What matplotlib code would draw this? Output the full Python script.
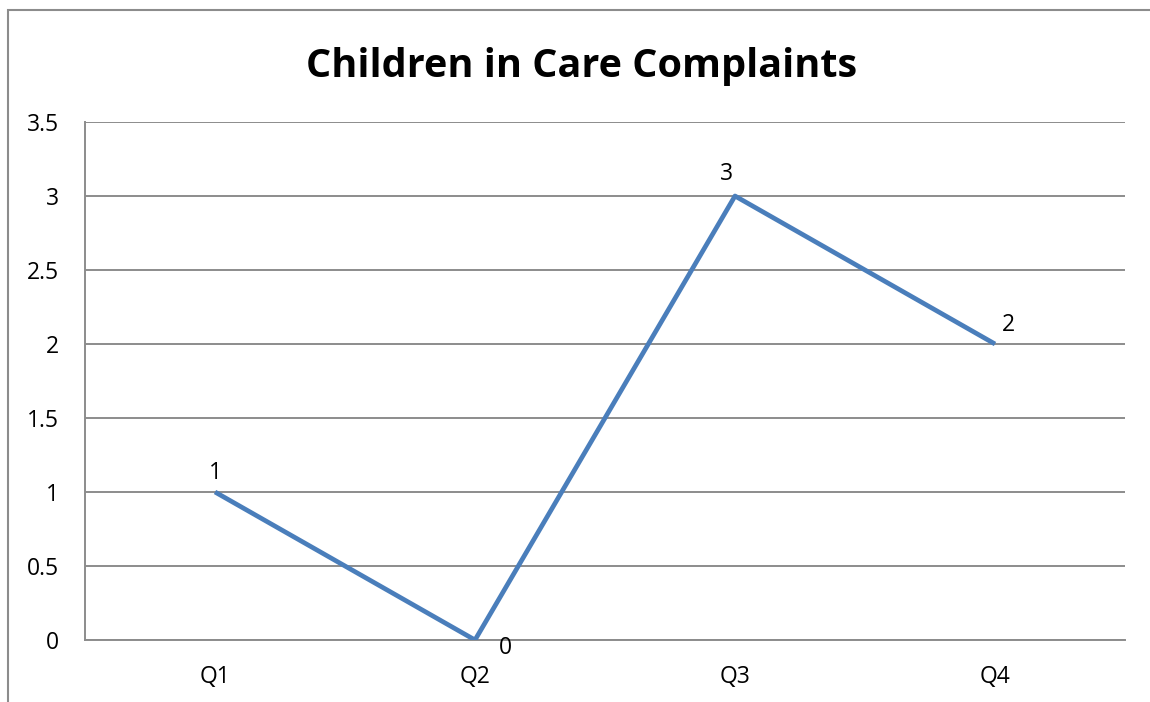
import matplotlib.pyplot as plt
from matplotlib.patches import Rectangle

plt.rcParams['font.family'] = ['Open Sans', 'DejaVu Sans']

quarters = ["Q1", "Q2", "Q3", "Q4"]
complaints = [1, 0, 3, 2]
yticks = [0, 0.5, 1, 1.5, 2, 2.5, 3, 3.5]
ytick_labels = ["0", "0.5", "1", "1.5", "2", "2.5", "3", "3.5"]
label_offsets = [(0, 14), (22, -6), (-6, 16), (10, 14)]

fig = plt.figure(figsize=(11.5, 7.02), dpi=100)
ax = fig.add_axes([85 / 1150, 1 - 640 / 702, 1040 / 1150, 518 / 702])

# outer chart border, cut off at right and bottom
fig.patches.append(Rectangle((8 / 1150, -0.1), 1.2, 1 - 10 / 702 + 0.1,
                             transform=fig.transFigure, fill=False,
                             edgecolor="#8c8c8c", linewidth=1.5))

x = list(range(len(quarters)))
ax.plot(x, complaints, color="#4a7ebb", linewidth=3.4, solid_capstyle="butt", zorder=3)
for xi, v, off in zip(x, complaints, label_offsets):
    ax.annotate(str(v), (xi, v), xytext=off, textcoords="offset points",
                ha="center", va="center", fontsize=16.5)

ax.set_xlim(-0.5, 3.5)
ax.set_ylim(0, 3.5)
ax.set_xticks(x)
ax.set_xticklabels(quarters, fontsize=16.5)
ax.set_yticks(yticks)
ax.set_yticklabels(ytick_labels, fontsize=16.5)
ax.tick_params(length=0, pad=18)
ax.tick_params(axis="y", pad=19)
ax.grid(axis="y", color="#8c8c8c", linewidth=1.4)
ax.set_axisbelow(True)
for s in ["top", "right"]:
    ax.spines[s].set_visible(False)
for s in ["left", "bottom"]:
    ax.spines[s].set_color("#8c8c8c")
    ax.spines[s].set_linewidth(1.4)

fig.text(582 / 1150, 1 - 66 / 702, "Children in Care Complaints",
         ha="center", va="center", fontsize=28.5, fontweight="bold")

fig.savefig("out.png", dpi=100)
